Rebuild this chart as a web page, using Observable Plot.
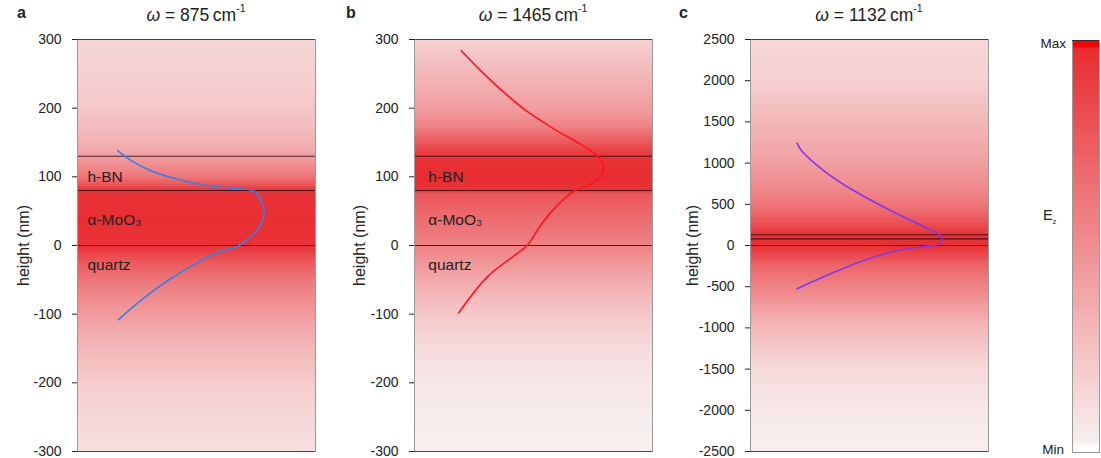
<!DOCTYPE html>
<html>
<head>
<meta charset="utf-8">
<script src="https://cdn.jsdelivr.net/npm/d3@7"></script>
<script src="https://cdn.jsdelivr.net/npm/@observablehq/plot@0.6"></script>
<style>
  body { margin: 0; background: #fff; }
  #root { position: relative; width: 1101px; height: 458px; font-family: "Liberation Sans", Arial, sans-serif; color: #222; overflow: hidden; }
  .panel { position: absolute; top: 0; }
  .title { position: absolute; top: 4px; font-size: 17.5px; text-align: center; white-space: nowrap; }
  .title sup { font-size: 10.5px; position: relative; top: -2px; }
  .plabel { position: absolute; top: 4px; font-size: 16px; font-weight: bold; }
  .cb { position: absolute; font-size: 13.5px; }
</style>
</head>
<body>
<div id="root"></div>
<script>
// ---------- data ----------
const layerBoundaries = [0, 80, 130];
const layerNames = ["h-BN", "α-MoO₃", "quartz"];
const layerNameHeights = [99, 37, -29];

const ticksAB = [-300, -200, -100, 0, 100, 200, 300];
const ticksC = [-2500, -2000, -1500, -1000, -500, 0, 500, 1000, 1500, 2000, 2500];

// field intensity (0 = Min, 1 = Max) vs height, panel a
const fieldHeightsA = [300, 250, 200, 160, 140, 130, 115, 100, 90, 80, 40, 0, -10, -25, -50, -75, -100, -125, -150, -200, -250, -300];
const fieldValuesA  = [0.15, 0.18, 0.22, 0.30, 0.37, 0.42, 0.52, 0.62, 0.76, 0.95, 0.97, 0.96, 0.88, 0.76, 0.62, 0.52, 0.44, 0.36, 0.30, 0.20, 0.14, 0.10];
// panel b
const fieldHeightsB = [300, 275, 250, 225, 200, 175, 160, 145, 130, 100, 80, 75, 50, 25, 0, -25, -50, -75, -100, -150, -200, -250, -300];
const fieldValuesB  = [0.17, 0.23, 0.30, 0.36, 0.43, 0.55, 0.68, 0.82, 0.95, 0.98, 0.95, 0.78, 0.70, 0.63, 0.56, 0.46, 0.37, 0.29, 0.22, 0.12, 0.07, 0.04, 0.02];
// panel c
const fieldHeightsC = [2500, 2000, 1500, 1200, 1000, 750, 500, 300, 150, 130, 0, -100, -250, -500, -750, -1000, -1250, -1500, -2000, -2500];
const fieldValuesC  = [0.14, 0.18, 0.30, 0.37, 0.42, 0.50, 0.62, 0.78, 0.93, 0.97, 0.97, 0.86, 0.70, 0.56, 0.42, 0.30, 0.21, 0.13, 0.06, 0.03];

// field profile curves (x = relative amplitude, y = height in nm)
const curveAx = [0.169, 0.224, 0.308, 0.405, 0.549, 0.658, 0.743, 0.772, 0.785, 0.764, 0.717, 0.675, 0.589, 0.519, 0.380, 0.266, 0.173];
const curveAy = [138, 124, 109, 98, 87, 83, 79, 65, 51, 26, 10, -1, -10, -22, -51, -80, -108];
const curveBx = [0.196, 0.277, 0.366, 0.466, 0.580, 0.689, 0.769, 0.795, 0.782, 0.726, 0.669, 0.585, 0.529, 0.473, 0.430, 0.305, 0.186];
const curveBy = [284, 255, 226, 197, 171, 149, 130, 114, 100, 87, 79, 53, 29, 0, -12, -46, -98];
const curveCx = [0.196, 0.214, 0.307, 0.433, 0.588, 0.718, 0.786, 0.807, 0.784, 0.742, 0.616, 0.476, 0.336, 0.196];
const curveCy = [1242, 1153, 910, 667, 425, 243, 146, 85, 8, -8, -61, -182, -344, -526];

const colorbarValues = [0, 1];

// ---------- drawing ----------
const colorScale = { type: "linear", domain: [0, 1], range: ["#f8f4f4", "#e8292e"], interpolate: "rgb" };
const font = '"Liberation Sans", Arial, sans-serif';
const root = document.getElementById("root");

function fieldPoints(hs, vs) {
  return hs.flatMap((h, i) => [{ x: 0, y: h, v: vs[i] }, { x: 1, y: h, v: vs[i] }]);
}
function curvePoints(xs, ys) {
  return xs.map((x, i) => ({ x, y: ys[i] }));
}

function panel({ left, ymax, ticks, hs, vs, cx, cy, stroke, labels, labelX, labelOffset }) {
  const marks = [
    Plot.raster(fieldPoints(hs, vs), { x: "x", y: "y", fill: "v", interpolate: "barycentric", x1: 0, x2: 1, y1: -ymax, y2: ymax }),
    Plot.ruleY(layerBoundaries, { stroke: "#2a1010", strokeOpacity: 0.85, strokeWidth: 1.1 }),
    Plot.frame({ stroke: "#9a9a9a" }),
    Plot.ruleY([-ymax, ymax], { stroke: "#444" }),
    Plot.line(curvePoints(cx, cy), { x: "x", y: "y", stroke, strokeWidth: 1.6, curve: "catmull-rom" }),
    Plot.axisY({ ticks, tickSize: 5, tickPadding: 11, tickFormat: d => `${d}`, fontSize: 14, label: null }),
    Plot.axisY({ ticks: [], tickSize: 0, label: "height (nm)", labelAnchor: "center", labelArrow: "none", labelOffset, fontSize: 16 })
  ];
  if (labels) {
    marks.push(Plot.text(layerNames, { x: () => labelX, y: (d, i) => layerNameHeights[i], text: d => d, textAnchor: "start", fontSize: 15.5, fill: "#222" }));
  }
  const svg = Plot.plot({
    width: 330, height: 458,
    marginLeft: 77, marginRight: 15, marginTop: 39, marginBottom: 7,
    x: { domain: [0, 1], axis: null },
    y: { domain: [-ymax, ymax] },
    color: colorScale,
    style: { fontSize: "14px", fontFamily: font, color: "#222", background: "transparent", overflow: "visible" },
    marks
  });
  const div = document.createElement("div");
  div.className = "panel";
  div.style.left = left + "px";
  div.appendChild(svg);
  root.appendChild(div);
}

panel({ left: 0, ymax: 300, ticks: ticksAB, hs: fieldHeightsA, vs: fieldValuesA, cx: curveAx, cy: curveAy, stroke: "#3580ec", labels: true, labelX: 0.042, labelOffset: 60 });
panel({ left: 337, ymax: 300, ticks: ticksAB, hs: fieldHeightsB, vs: fieldValuesB, cx: curveBx, cy: curveBy, stroke: "#ff1520", labels: true, labelX: 0.058, labelOffset: 61 });
panel({ left: 673, ymax: 2500, ticks: ticksC, hs: fieldHeightsC, vs: fieldValuesC, cx: curveCx, cy: curveCy, stroke: "#8236f0", labels: false, labelX: 0, labelOffset: 64 });

// colorbar
const cbPoints = colorbarValues.flatMap(v => [{ x: 0, y: v, v }, { x: 1, y: v, v }]);
const cb = Plot.plot({
  width: 61, height: 458,
  marginLeft: 32, marginRight: 2, marginTop: 40, marginBottom: 6,
  x: { domain: [0, 1], axis: null },
  y: { domain: [0, 1], axis: null },
  color: colorScale,
  style: { background: "transparent", overflow: "visible" },
  marks: [
    Plot.raster(cbPoints, { x: "x", y: "y", fill: "v", interpolate: "barycentric", x1: 0, x2: 1, y1: 0, y2: 1 }),
    Plot.rectY([1], { x1: 0, x2: 1, y1: 0.982, y2: d => d, fill: "#ff0000" }),
    Plot.rectY([0], { x1: 0, x2: 1, y1: d => d, y2: 0.018, fill: "#ffffff" }),
    Plot.frame({ stroke: "#9a9a9a" }),
    Plot.ruleY([1], { stroke: "#333" })
  ]
});
const cbDiv = document.createElement("div");
cbDiv.className = "panel";
cbDiv.style.left = "1040px";
cbDiv.appendChild(cb);
root.appendChild(cbDiv);

// titles and annotations (HTML text)
function addHTML(html, cls, styles) {
  const d = document.createElement("div");
  d.className = cls;
  d.innerHTML = html;
  Object.assign(d.style, styles);
  root.appendChild(d);
}
const titles = ["875", "1465", "1132"];
const frameLefts = [77, 414, 750];
const panelLetters = ["a", "b", "c"];
const letterLefts = [17, 346, 679];
titles.forEach((t, i) => {
  addHTML(`<span style="font-style:italic">ω</span> = ${t}&#8201;cm<sup>-1</sup>`, "title", { left: frameLefts[i] + "px", width: "238px" });
  addHTML(panelLetters[i], "plabel", { left: letterLefts[i] + "px" });
});
addHTML("Max", "cb", { right: (1101 - 1066) + "px", top: "36px" });
addHTML("Min", "cb", { right: (1101 - 1064) + "px", top: "442px" });
addHTML('E<sub style="font-size:7px">z</sub>', "cb", { left: "1043px", top: "207px", fontSize: "14.5px" });
</script>
</body>
</html>
